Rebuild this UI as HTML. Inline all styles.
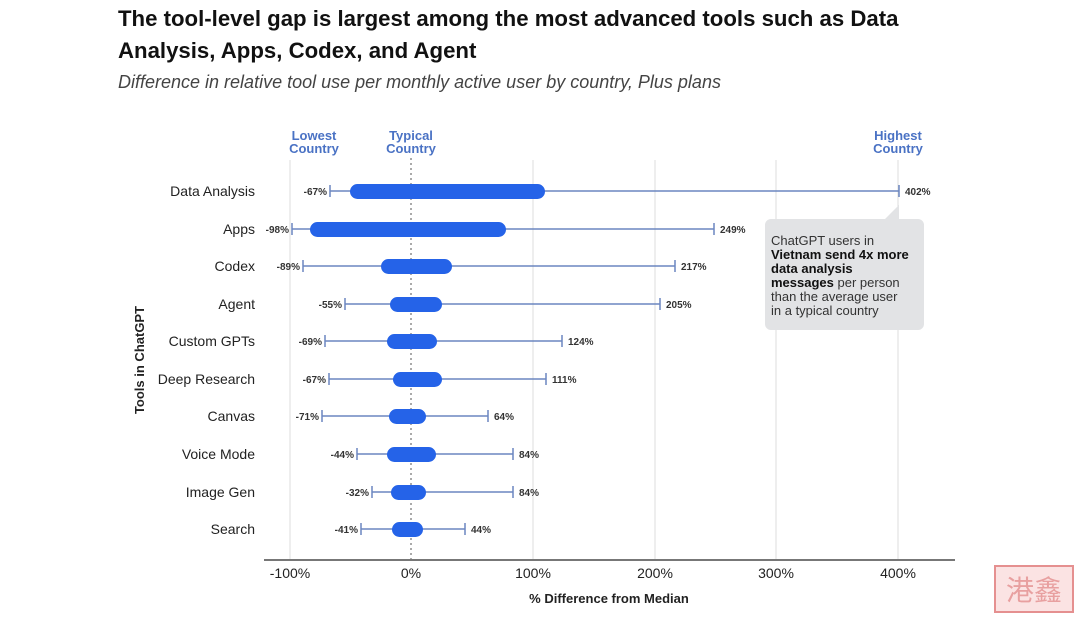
<!DOCTYPE html>
<html><head><meta charset="utf-8"><style>
body{margin:0;width:1080px;height:615px;background:#fff;overflow:hidden;font-family:"Liberation Sans",sans-serif;}
</style></head><body>
<svg width="1080" height="615" xmlns="http://www.w3.org/2000/svg" font-family="Liberation Sans, sans-serif">
<text x="118" y="26" font-size="22.2" font-weight="bold" fill="#111">The tool-level gap is largest among the most advanced tools such as Data</text>
<text x="118" y="58" font-size="22.2" font-weight="bold" fill="#111">Analysis, Apps, Codex, and Agent</text>
<text x="118" y="88" font-size="18" font-style="italic" fill="#444">Difference in relative tool use per monthly active user by country, Plus plans</text>

<g fill="#4a72c4" font-size="13" font-weight="bold" text-anchor="middle">
<text x="314" y="140">Lowest</text><text x="314" y="153">Country</text>
<text x="411" y="140">Typical</text><text x="411" y="153">Country</text>
<text x="898" y="140">Highest</text><text x="898" y="153">Country</text>
</g>
<g stroke="#dcdcdc" stroke-width="1">
<line x1="290" y1="160" x2="290" y2="560"/><line x1="533" y1="160" x2="533" y2="560"/>
<line x1="655" y1="160" x2="655" y2="560"/><line x1="776" y1="160" x2="776" y2="560"/>
<line x1="898" y1="160" x2="898" y2="560"/>
</g>
<line x1="411" y1="158" x2="411" y2="560" stroke="#555" stroke-width="1" stroke-dasharray="2,3"/>
<line x1="264" y1="560" x2="955" y2="560" stroke="#777" stroke-width="2"/>
<g font-size="14" fill="#222" text-anchor="middle">
<text x="290" y="578">-100%</text><text x="411" y="578">0%</text><text x="533" y="578">100%</text>
<text x="655" y="578">200%</text><text x="776" y="578">300%</text><text x="898" y="578">400%</text>
</g>
<text x="609" y="603" font-size="13" font-weight="bold" text-anchor="middle" fill="#222">% Difference from Median</text>
<text transform="translate(144,360) rotate(-90)" font-size="13" font-weight="bold" text-anchor="middle" fill="#222">Tools in ChatGPT</text>

<g font-size="14" fill="#222" text-anchor="end">
<text x="255" y="196">Data Analysis</text><text x="255" y="234">Apps</text><text x="255" y="271">Codex</text>
<text x="255" y="309">Agent</text><text x="255" y="346">Custom GPTs</text><text x="255" y="384">Deep Research</text>
<text x="255" y="421">Canvas</text><text x="255" y="459">Voice Mode</text><text x="255" y="497">Image Gen</text>
<text x="255" y="534">Search</text>
</g>

<g stroke="#6b86c0" stroke-width="1.5">
<line x1="330" y1="191" x2="899" y2="191"/><line x1="330" y1="185" x2="330" y2="197"/><line x1="899" y1="185" x2="899" y2="197"/>
<line x1="292" y1="229" x2="714" y2="229"/><line x1="292" y1="223" x2="292" y2="235"/><line x1="714" y1="223" x2="714" y2="235"/>
<line x1="303" y1="266" x2="675" y2="266"/><line x1="303" y1="260" x2="303" y2="272"/><line x1="675" y1="260" x2="675" y2="272"/>
<line x1="345" y1="304" x2="660" y2="304"/><line x1="345" y1="298" x2="345" y2="310"/><line x1="660" y1="298" x2="660" y2="310"/>
<line x1="325" y1="341" x2="562" y2="341"/><line x1="325" y1="335" x2="325" y2="347"/><line x1="562" y1="335" x2="562" y2="347"/>
<line x1="329" y1="379" x2="546" y2="379"/><line x1="329" y1="373" x2="329" y2="385"/><line x1="546" y1="373" x2="546" y2="385"/>
<line x1="322" y1="416" x2="488" y2="416"/><line x1="322" y1="410" x2="322" y2="422"/><line x1="488" y1="410" x2="488" y2="422"/>
<line x1="357" y1="454" x2="513" y2="454"/><line x1="357" y1="448" x2="357" y2="460"/><line x1="513" y1="448" x2="513" y2="460"/>
<line x1="372" y1="492" x2="513" y2="492"/><line x1="372" y1="486" x2="372" y2="498"/><line x1="513" y1="486" x2="513" y2="498"/>
<line x1="361" y1="529" x2="465" y2="529"/><line x1="361" y1="523" x2="361" y2="535"/><line x1="465" y1="523" x2="465" y2="535"/>
</g>
<g fill="#2563e8">
<rect x="350" y="184" width="195" height="15" rx="7.5"/>
<rect x="310" y="222" width="196" height="15" rx="7.5"/>
<rect x="381" y="259" width="71" height="15" rx="7.5"/>
<rect x="390" y="297" width="52" height="15" rx="7.5"/>
<rect x="387" y="334" width="50" height="15" rx="7.5"/>
<rect x="393" y="372" width="49" height="15" rx="7.5"/>
<rect x="389" y="409" width="37" height="15" rx="7.5"/>
<rect x="387" y="447" width="49" height="15" rx="7.5"/>
<rect x="391" y="485" width="35" height="15" rx="7.5"/>
<rect x="392" y="522" width="31" height="15" rx="7.5"/>
</g>
<g font-size="10" font-weight="bold" fill="#333">
<g text-anchor="end">
<text x="327" y="195">-67%</text><text x="289" y="233">-98%</text><text x="300" y="270">-89%</text>
<text x="342" y="308">-55%</text><text x="322" y="345">-69%</text><text x="326" y="383">-67%</text>
<text x="319" y="420">-71%</text><text x="354" y="458">-44%</text><text x="369" y="496">-32%</text>
<text x="358" y="533">-41%</text>
</g>
<text x="905" y="195">402%</text><text x="720" y="233">249%</text><text x="681" y="270">217%</text>
<text x="666" y="308">205%</text><text x="568" y="345">124%</text><text x="552" y="383">111%</text>
<text x="494" y="420">64%</text><text x="519" y="458">84%</text><text x="519" y="496">84%</text>
<text x="471" y="533">44%</text>
</g>

<path d="M771,219 H885 L899,205 L899,219 H918 a6,6 0 0 1 6,6 V324 a6,6 0 0 1 -6,6 H771 a6,6 0 0 1 -6,-6 V225 a6,6 0 0 1 6,-6 Z" fill="#e2e3e5"/>
<g font-size="13" fill="#333">
<text x="771" y="245">ChatGPT users in</text>
<text x="771" y="259" font-weight="bold" fill="#111">Vietnam send 4x more</text>
<text x="771" y="273" font-weight="bold" fill="#111">data analysis</text>
<text x="771" y="287"><tspan font-weight="bold" fill="#111">messages</tspan> per person</text>
<text x="771" y="301">than the average user</text>
<text x="771" y="315">in a typical country</text>
</g>

<rect x="995" y="566" width="78" height="46" fill="#fbe3e3" stroke="#e59090" stroke-width="2"/>
<text x="1034" y="600" font-size="28" text-anchor="middle" fill="#e8a0a0" font-family="Noto Sans CJK SC, sans-serif">港鑫</text>
</svg>
</body></html>
